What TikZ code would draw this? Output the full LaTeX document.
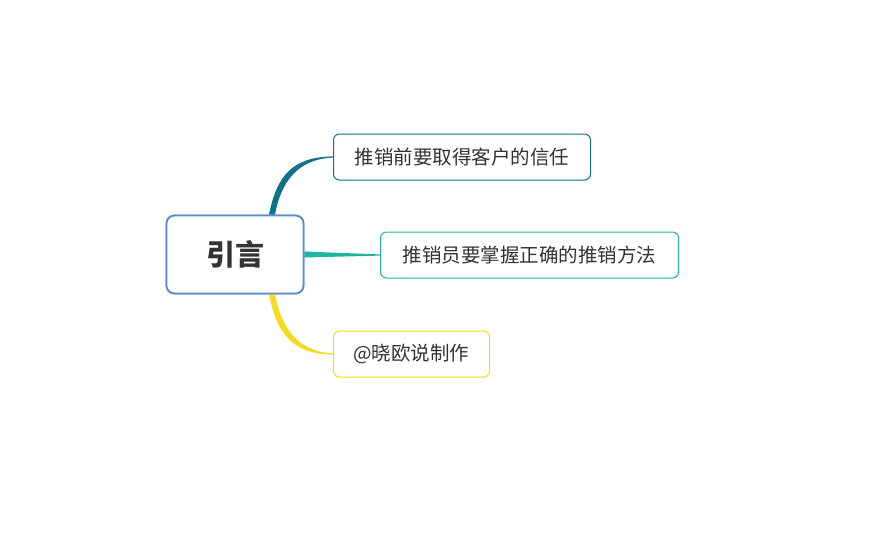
\documentclass[tikz,border=0pt]{standalone}
\usepackage{fontspec}
\newfontfamily\cjk{Noto Sans CJK SC}
\usetikzlibrary{calc}
\definecolor{cblue}{HTML}{5B8DCB}
\definecolor{cteal}{HTML}{0F7289}
\definecolor{cgreen}{HTML}{1EB4A0}
\definecolor{cyel}{HTML}{F7D91E}
\definecolor{ctext}{HTML}{333333}
\tikzset{
 topic/.style={draw, rounded corners=6pt, line width=1pt, fill=white, text=ctext, font=\cjk\fontsize{19.5}{20}\selectfont, inner xsep=0pt, inner ysep=0pt, anchor=west, minimum height=46pt, text width=#1, align=center},
 central/.style={draw=cblue, line width=1.8pt, rounded corners=8pt, fill=white, text=ctext, minimum width=137pt, minimum height=78pt, font=\cjk\bfseries\fontsize{29}{29}\selectfont},
}
\begin{document}
\begin{tikzpicture}[x=1pt,y=-1pt]
\useasboundingbox (0,0) rectangle (869,542);
\node[central] (c) at (235,254.5) {引言};
\node[topic=257pt, draw=cteal] (a) at (333,157) {推销前要取得客户的信任};
\node[topic=298pt, draw=cgreen] (b) at (380,255) {推销员要掌握正确的推销方法};
\node[topic=156pt, draw=cyel] (d) at (333,354) {@晓欧说制作};
% tapered connectors
\fill[cteal] ($(c.north)+(34,0)$) .. controls ($(c.north)+(42,-40)$) and ($(a.west)+(-40,0)$) .. ($(a.west)+(0,-0.6)$) -- ($(a.west)+(0,0.6)$) .. controls ($(a.west)+(-35,2)$) and ($(c.north)+(46,-33)$) .. ($(c.north)+(40,0)$) -- cycle;
\fill[cgreen] ($(c.east)+(0,-3)$) -- ($(b.west)+(0,-0.6)$) -- ($(b.west)+(0,0.6)$) -- ($(c.east)+(0,3)$) -- cycle;
\fill[cyel] ($(c.south)+(34,0)$) .. controls ($(c.south)+(42,40)$) and ($(d.west)+(-40,0)$) .. ($(d.west)+(0,0.6)$) -- ($(d.west)+(0,-0.6)$) .. controls ($(d.west)+(-35,-2)$) and ($(c.south)+(46,33)$) .. ($(c.south)+(40,0)$) -- cycle;
\node[central] at (c) {引言};
\end{tikzpicture}
\end{document}
